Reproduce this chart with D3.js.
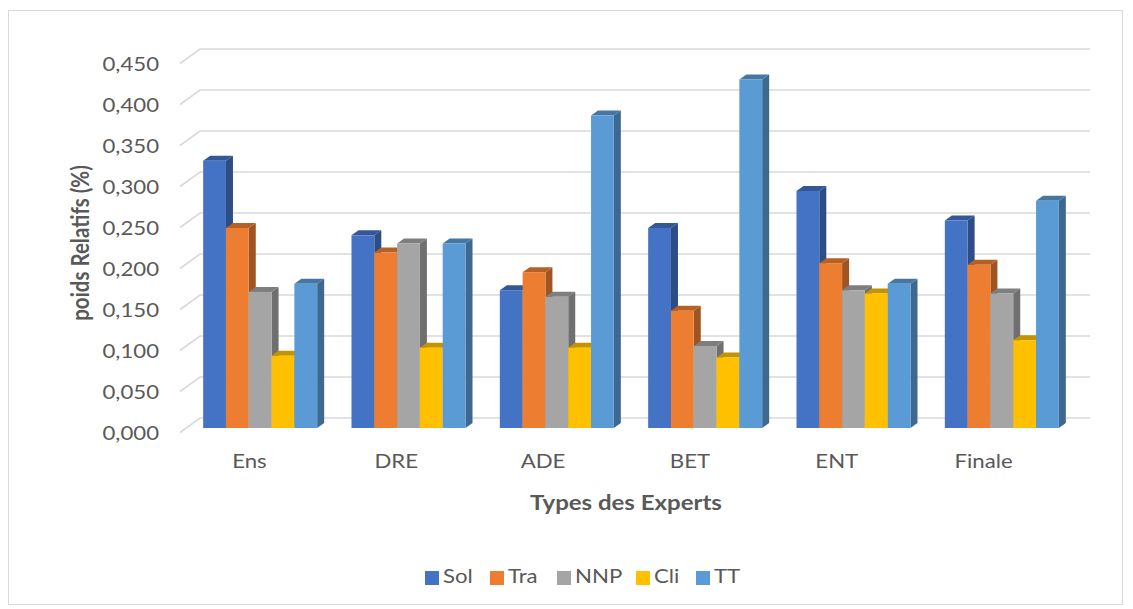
<!DOCTYPE html>
<html>
<head>
<meta charset="utf-8">
<script src="https://cdn.jsdelivr.net/npm/d3@7"></script>
<style>
  html, body { margin: 0; padding: 0; background: #fff; }
  svg { display: block; font-family: Lato, "Open Sans", sans-serif; }
</style>
</head>
<body>
<svg id="chart" width="1133" height="609"></svg>
<script>
// Relative weights per expert type and criterion
const categories = ["Ens", "DRE", "ADE", "BET", "ENT", "Finale"];
const seriesNames = ["Sol", "Tra", "NNP", "Cli", "TT"];
const sol = [0.326, 0.235, 0.168, 0.244, 0.289, 0.253];
const tra = [0.244, 0.214, 0.190, 0.143, 0.201, 0.199];
const nnp = [0.166, 0.225, 0.160, 0.100, 0.168, 0.164];
const cli = [0.088, 0.098, 0.098, 0.086, 0.164, 0.107];
const tt  = [0.176, 0.225, 0.381, 0.425, 0.176, 0.277];
const yTicks = [0, 0.05, 0.1, 0.15, 0.2, 0.25, 0.3, 0.35, 0.4, 0.45];

const seriesValues = [sol, tra, nnp, cli, tt];
const colors = ["#4472c4", "#ed7d31", "#a5a5a5", "#ffc000", "#5b9bd5"];

const svg = d3.select("#chart");
const fmt = v => d3.format(".3f")(v).replace(".", ",");
const textWidthScale = 1.2;   // slightly wide lettering
const place = (x, yy) => `translate(${x},${yy}) scale(${textWidthScale},1)`;

// Chart frame
svg.append("rect")
  .attr("x", 8.5).attr("y", 10.5).attr("width", 1114).attr("height", 594)
  .attr("fill", "#fff").attr("stroke", "#d9d9d9").attr("stroke-width", 1);

// Back wall geometry and depth offsets (oblique projection)
const backLeft = 200, backRight = 1090;
const y = d3.scaleLinear().domain([0, 0.45]).range([418, 49]);
const wallDepth = { dx: -20, dy: 14.5 };   // back wall -> front edge
const barFront = { dx: -14, dy: 10 };      // back wall -> bar front face
const barDepth = { dx: 7, dy: -5 };        // bar front face -> bar back face

const x0 = d3.scaleBand().domain(categories).range([backLeft, backRight])
  .paddingInner(0.2314).paddingOuter(0.1157);
const x1 = d3.scaleBand().domain(seriesNames).range([0, x0.bandwidth()]);

// Gridlines: back wall + left side wall
const grid = svg.append("g").attr("stroke", "#d9d9d9").attr("stroke-width", 1.6).attr("fill", "none");
yTicks.forEach(t => {
  const yb = y(t);
  grid.append("path").attr("d",
    `M${backLeft + wallDepth.dx},${yb + wallDepth.dy}L${backLeft},${yb}L${backRight},${yb}`);
});

// Y tick labels on the front edge of the side wall
svg.append("g").selectAll("text").data(yTicks).join("text")
  .attr("transform", d => place(159, y(d) + wallDepth.dy + 3))
  .attr("text-anchor", "end")
  .attr("dominant-baseline", "middle")
  .attr("font-size", 18.5)
  .attr("fill", "#595959")
  .text(fmt);

// 3D columns
const bars = svg.append("g");
categories.forEach((cat, ci) => {
  seriesNames.forEach((s, si) => {
    const v = seriesValues[si][ci];
    const xl = x0(cat) + x1(s) + barFront.dx;
    const xr = xl + x1.bandwidth();
    const yt = y(v) + barFront.dy;
    const yb = y(0) + barFront.dy;
    const base = d3.color(colors[si]);
    const side = base.darker(1.1).formatHex();
    const top = base.darker(0.75).formatHex();
    const g = bars.append("g");
    // right side face
    g.append("path")
      .attr("d", `M${xr},${yt}L${xr + barDepth.dx},${yt + barDepth.dy}L${xr + barDepth.dx},${yb + barDepth.dy}L${xr},${yb}Z`)
      .attr("fill", side);
    // top face
    g.append("path")
      .attr("d", `M${xl},${yt}L${xl + barDepth.dx},${yt + barDepth.dy}L${xr + barDepth.dx},${yt + barDepth.dy}L${xr},${yt}Z`)
      .attr("fill", top);
    // front face
    g.append("rect")
      .attr("x", xl).attr("y", yt)
      .attr("width", xr - xl).attr("height", yb - yt)
      .attr("fill", colors[si]);
  });
});

// Category labels along the front edge
const xLab = d3.scaleBand().domain(categories).range([176, 1057]);
svg.append("g").selectAll("text").data(categories).join("text")
  .attr("transform", d => place(xLab(d) + xLab.bandwidth() / 2, 468))
  .attr("text-anchor", "middle")
  .attr("font-size", 18.5)
  .attr("fill", "#595959")
  .text(d => d);

// Axis titles
svg.append("text")
  .attr("transform", place(626, 510))
  .attr("text-anchor", "middle")
  .attr("font-size", 20).attr("font-weight", "bold")
  .attr("fill", "#595959")
  .text("Types des Experts");

svg.append("text")
  .attr("transform", `translate(89,243) rotate(-90) scale(1,${textWidthScale})`)
  .attr("text-anchor", "middle")
  .attr("font-size", 20.5).attr("font-weight", "bold")
  .attr("fill", "#595959")
  .text("poids Relatifs (%)");

// Legend
const legendX = [425, 490, 557, 636, 696];
const legend = svg.append("g");
seriesNames.forEach((s, i) => {
  legend.append("rect")
    .attr("x", legendX[i]).attr("y", 571)
    .attr("width", 14).attr("height", 14)
    .attr("fill", colors[i]);
  legend.append("text")
    .attr("transform", place(legendX[i] + 18, 578))
    .attr("dominant-baseline", "middle")
    .attr("font-size", 18.5)
    .attr("fill", "#595959")
    .text(s);
});
</script>
</body>
</html>
